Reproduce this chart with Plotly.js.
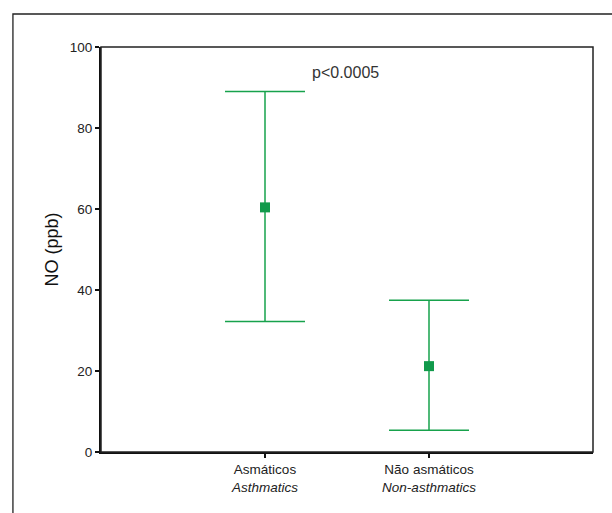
<!DOCTYPE html>
<html>
<head>
<meta charset="utf-8">
<script src="https://cdn.plot.ly/plotly-3.0.1.min.js"></script>
<style>html,body{margin:0;padding:0;background:#fff;}#chart{width:612px;height:513px;}</style>
</head>
<body>
<div id="chart"></div>
<script>
var categories = ["Asmáticos<br><i>Asthmatics</i>", "Não asmáticos<br><i>Non-asthmatics</i>"];
var positions = [0, 1];
var means = [60.4, 21.2];
var upper = [89.0, 37.5];
var lower = [32.2, 5.4];
var yTicks = [0, 20, 40, 60, 80, 100];
var pText = "p<0.0005";

var errPlus = means.map(function(m, i){ return upper[i] - m; });
var errMinus = means.map(function(m, i){ return m - lower[i]; });

var trace = {
  type: 'scatter', mode: 'markers',
  x: positions, y: means,
  marker: {symbol: 'square', size: 10, color: '#119a4b', line: {width: 0}},
  error_y: {type: 'data', symmetric: false, array: errPlus, arrayminus: errMinus,
            color: '#17a24c', thickness: 1.5, width: 40},
  hoverinfo: 'none', showlegend: false
};

var layout = {
  width: 612, height: 513,
  margin: {l: 101, r: 19, t: 47, b: 61},
  paper_bgcolor: '#fff', plot_bgcolor: '#fff',
  font: {family: 'Liberation Sans, Arial, sans-serif', color: '#222', size: 13},
  showlegend: false,
  xaxis: {
    range: [-1, 2], tickvals: positions, ticktext: categories,
    showgrid: false, zeroline: false, showline: true, linecolor: '#111', linewidth: 2,
    ticks: 'outside', ticklen: 4, tickwidth: 1.5, tickcolor: '#111',
    tickfont: {size: 13.5, color: '#222'}, fixedrange: true
  },
  yaxis: {
    range: [0, 100], tickvals: yTicks,
    showgrid: false, zeroline: false, showline: true, linecolor: '#111', linewidth: 2,
    ticks: 'outside', ticklen: 4, tickwidth: 1.5, tickcolor: '#111',
    tickfont: {size: 13.5, color: '#222'},
    title: {text: 'NO (ppb)', font: {size: 18, color: '#111'}, standoff: 6},
    fixedrange: true
  },
  annotations: [{
    x: 0.49, y: 93.8, xref: 'x', yref: 'y', text: pText, showarrow: false,
    font: {size: 16, color: '#333'}
  }],
  shapes: [
    {type: 'rect', xref: 'paper', yref: 'paper', x0: 0, x1: 1, y0: 0, y1: 1,
     line: {color: '#222', width: 1.5}},
    {type: 'rect', xref: 'paper', yref: 'paper', x0: -0.179, x1: 1.2, y0: -0.3, y1: 1.0815,
     line: {color: '#222', width: 1.3}}
  ]
};

Plotly.newPlot('chart', [trace], layout, {displayModeBar: false, staticPlot: true});
</script>
</body>
</html>
